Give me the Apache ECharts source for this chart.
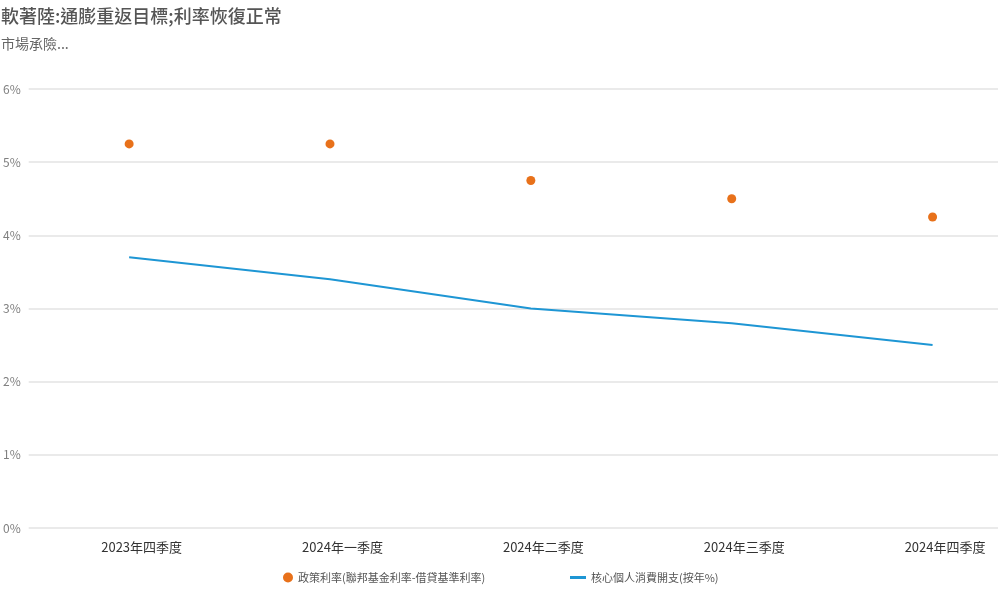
<!DOCTYPE html>
<html><head><meta charset="utf-8">
<script src="https://cdn.jsdelivr.net/npm/echarts@6/dist/echarts.min.js"></script>
<style>html,body{margin:0;padding:0;background:#fff;overflow:hidden;width:998px;height:590px}#c{width:1033px;height:590px}</style>
</head><body><div id="c"></div>
<script>
var categories = ['2023年四季度','2024年一季度','2024年二季度','2024年三季度','2024年四季度'];
var policyRate = [5.25, 5.25, 4.75, 4.5, 4.25];
var corePCE = [3.7, 3.4, 3.0, 2.8, 2.5];
var yTicks = [0, 1, 2, 3, 4, 5, 6];
var seriesNames = ['政策利率(聯邦基金利率-借貸基準利率)', '核心個人消費開支(按年%)'];
var FONT = '"Noto Sans CJK TC", "Noto Sans", sans-serif';
var legendText = {fontSize: 11, color: '#555', fontFamily: FONT};
var chart = echarts.init(document.getElementById('c'));
chart.setOption({
  animation: false,
  textStyle: {fontFamily: FONT},
  title: {
    text: '軟著陸:通膨重返目標;利率恢復正常',
    subtext: '市場承險...',
    left: -4, top: 2,
    textStyle: {fontSize: 18, fontWeight: 500, color: '#555', fontFamily: FONT},
    subtextStyle: {fontSize: 14, color: '#666', fontFamily: FONT},
    itemGap: 12
  },
  legend: [
    {bottom: 2, left: 278, textStyle: legendText, data: [seriesNames[0]],
     icon: 'circle', itemWidth: 10, itemHeight: 10, itemGap: 5},
    {bottom: 2, left: 565, textStyle: legendText, data: [seriesNames[1]],
     icon: 'rect', itemWidth: 16, itemHeight: 3, itemGap: 5}
  ],
  grid: {left: 28, right: 0, top: 89, bottom: 62, containLabel: false},
  xAxis: {
    type: 'category', data: categories, boundaryGap: true,
    axisLine: {show: false}, axisTick: {show: false},
    axisLabel: {color: '#333', fontSize: 13, margin: 13, fontFamily: FONT, padding: [0, 0, 0, 25]}
  },
  yAxis: {
    type: 'value', min: yTicks[0], max: yTicks[yTicks.length-1], interval: 1,
    axisLabel: {formatter: '{value}%', color: '#808080', fontSize: 12, margin: 8},
    splitLine: {lineStyle: {color: '#e3e3e3', width: 1.5}},
    axisLine: {show: false}, axisTick: {show: false}
  },
  series: [
    {name: seriesNames[0], type: 'scatter', data: policyRate, symbolSize: 9,
     itemStyle: {color: '#E8711A', opacity: 1}},
    {name: seriesNames[1], type: 'line', data: corePCE, showSymbol: false, symbol: 'none',
     lineStyle: {color: '#1E96D4', width: 2}, itemStyle: {color: '#1E96D4'}}
  ]
});
</script></body></html>
